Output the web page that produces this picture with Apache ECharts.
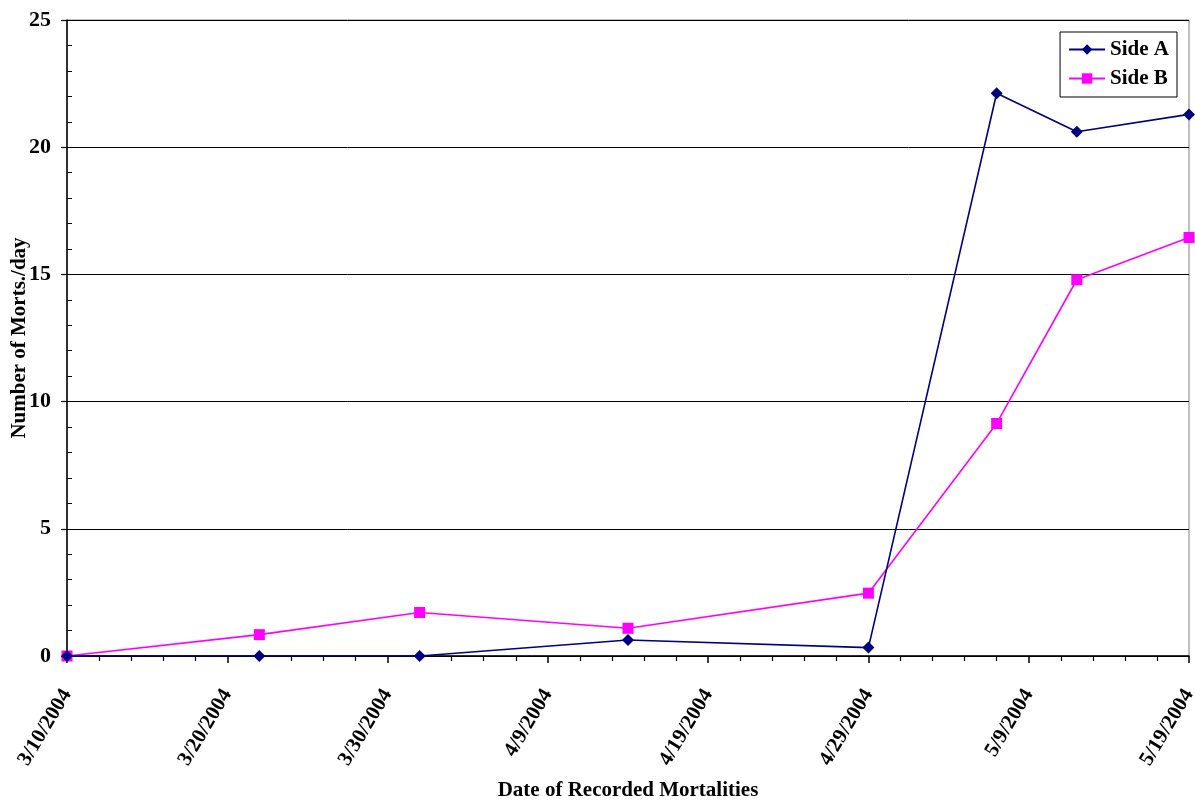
<!DOCTYPE html>
<html>
<head>
<meta charset="utf-8">
<script src="https://cdn.jsdelivr.net/npm/echarts@6/dist/echarts.min.js"></script>
<style>
  html, body { margin: 0; padding: 0; background: #fff; }
  #chart { width: 1195px; height: 805px; }
</style>
</head>
<body>
<div id="chart"></div>
<script>
// Sampling dates and daily mortality counts for each side
const sampleDates = ['3/10/2004', '3/22/2004', '4/1/2004', '4/14/2004', '4/29/2004', '5/7/2004', '5/12/2004', '5/19/2004'];
const sideA = [0, 0, 0, 0.63, 0.33, 22.12, 20.61, 21.29];
const sideB = [0, 0.84, 1.71, 1.09, 2.47, 9.14, 14.79, 16.45];
const seriesNames = ['Side A', 'Side B'];
const startDate = '3/10/2004';
const endDate = '5/19/2004';
const xTitle = 'Date of Recorded Mortalities';
const yTitle = 'Number of Morts./day';

const DAY = 86400000;
function toUTC(s) {
  const [m, d, y] = s.split('/').map(Number);
  return Date.UTC(y, m - 1, d);
}
const t0 = toUTC(startDate);
function dayOffset(s) { return Math.round((toUTC(s) - t0) / DAY); }
function dayLabel(v) {
  const dt = new Date(t0 + v * DAY);
  return (dt.getUTCMonth() + 1) + '/' + dt.getUTCDate() + '/' + dt.getUTCFullYear();
}

const font = '"Liberation Serif", "Times New Roman", serif';
const xs = sampleDates.map(dayOffset);

const chart = echarts.init(document.getElementById('chart'), null, { renderer: 'canvas' });
chart.setOption({
  animation: false,
  backgroundColor: '#fff',
  textStyle: { fontFamily: font },
  grid: {
    left: 67, right: 6, top: 20, bottom: 149,
    containLabel: false, outerBoundsMode: 'none',
    show: true, borderColor: '#808080', borderWidth: 1, backgroundColor: 'transparent'
  },
  legend: {
    orient: 'vertical',
    right: 18, top: 32,
    padding: [7, 8, 8, 8],
    itemGap: 8,
    itemWidth: 36, itemHeight: 13,
    borderColor: '#000', borderWidth: 1, backgroundColor: '#fff',
    textStyle: { fontFamily: font, fontWeight: 'bold', fontSize: 21, color: '#000' },
    data: seriesNames
  },
  xAxis: {
    type: 'value',
    min: 0, max: dayOffset(endDate), interval: 10,
    name: xTitle, nameLocation: 'middle', nameGap: 124,
    nameTextStyle: { fontFamily: font, fontWeight: 'bold', fontSize: 21, color: '#000' },
    axisLine: { show: true, onZero: false, lineStyle: { color: '#000', width: 1.5 } },
    axisTick: { show: true, length: 7, lineStyle: { color: '#000', width: 1.5 } },
    minorTick: { show: true, splitNumber: 5, length: 5, lineStyle: { color: '#000', width: 1.2 } },
    splitLine: { show: false },
    axisLabel: {
      rotate: 59, margin: 35,
      fontFamily: font, fontWeight: 'bold', fontSize: 21, color: '#000',
      formatter: dayLabel
    }
  },
  yAxis: {
    type: 'value',
    min: 0, max: 25, interval: 5,
    name: yTitle, nameLocation: 'middle', nameGap: 37, nameMoveOverlap: false,
    nameTextStyle: { fontFamily: font, fontWeight: 'bold', fontSize: 21, color: '#000' },
    axisLine: { show: true, lineStyle: { color: '#000', width: 1.5 } },
    axisTick: { show: true, length: 6, lineStyle: { color: '#000', width: 1.2 } },
    minorTick: { show: true, splitNumber: 5, length: -5, lineStyle: { color: '#000', width: 1 } },
    splitLine: { show: true, lineStyle: { color: '#000', width: 1 } },
    axisLabel: {
      margin: 16,
      fontFamily: font, fontWeight: 'bold', fontSize: 22, color: '#000'
    }
  },
  series: [
    {
      name: seriesNames[0], type: 'line',
      data: xs.map((x, i) => [x, sideA[i]]),
      symbol: 'diamond', symbolSize: 12,
      itemStyle: { color: '#000080' },
      lineStyle: { color: '#000080', width: 1.6 },
      z: 3
    },
    {
      name: seriesNames[1], type: 'line',
      data: xs.map((x, i) => [x, sideB[i]]),
      symbol: 'rect', symbolSize: 11,
      itemStyle: { color: '#FF00FF' },
      lineStyle: { color: '#FF00FF', width: 1.6 },
      z: 2
    }
  ]
});
</script>
</body>
</html>
